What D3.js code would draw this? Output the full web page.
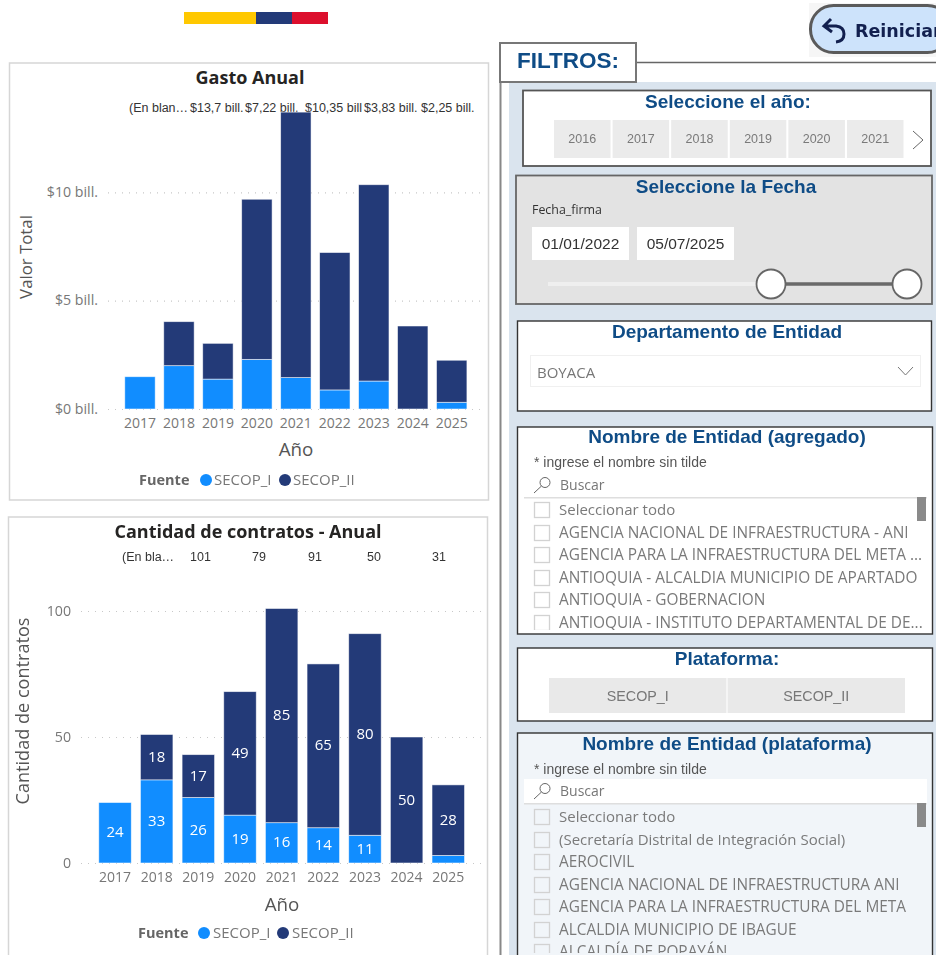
<!DOCTYPE html>
<html>
<head>
<meta charset="utf-8">
<script src="https://cdn.jsdelivr.net/npm/d3@7/dist/d3.min.js"></script>
<style>
html,body{margin:0;padding:0;background:#fff;overflow:hidden}
svg{display:block;filter:blur(.3px)}
text{font-family:"Open Sans",sans-serif}
.a{font-family:"Liberation Sans",Arial,sans-serif}
</style>
</head>
<body>
<svg id="c" width="936" height="955"></svg>
<script>
const years = ["2017","2018","2019","2020","2021","2022","2023","2024","2025"];
const gastoSecopI  = [1.49,2.00,1.38,2.29,1.45,0.88,1.29,0,0.31];
const gastoSecopII = [0,2.03,1.65,7.39,12.25,6.34,9.06,3.83,1.94];
const gastoTicks = [0,5,10];
const gastoTopLabels = ["(En blan…","$13,7 bill.","$7,22 bill.","$10,35 bill","$3,83 bill.","$2,25 bill."];
const gastoTopX = [129,190,245,305,364,421];
const cantSecopI  = [24,33,26,19,16,14,11,0,3];
const cantSecopII = [0,18,17,49,85,65,80,50,28];
const cantTicks = [0,50,100];
const cantTopLabels = ["(En bla…","101","79","91","50","31"];
const cantTopX = [122,190,252,308,367,432];
const seriesNames = ["SECOP_I","SECOP_II"];
const seriesColors = ["#118DFF","#233A78"];
const yearButtons = ["2016","2017","2018","2019","2020","2021"];
const dateValues = ["01/01/2022","05/07/2025"];
const platformButtons = ["SECOP_I","SECOP_II"];
const entidadAgregado = ["Seleccionar todo","AGENCIA NACIONAL DE INFRAESTRUCTURA - ANI","AGENCIA PARA LA INFRAESTRUCTURA DEL META ...","ANTIOQUIA - ALCALDIA MUNICIPIO DE APARTADO","ANTIOQUIA - GOBERNACION","ANTIOQUIA - INSTITUTO DEPARTAMENTAL DE DE..."];
const entidadPlataforma = ["Seleccionar todo","(Secretaría Distrital de Integración Social)","AEROCIVIL","AGENCIA NACIONAL DE INFRAESTRUCTURA ANI","AGENCIA PARA LA INFRAESTRUCTURA DEL META","ALCALDIA MUNICIPIO DE IBAGUE","ALCALDÍA DE POPAYÁN"];

const svg = d3.select("#c");
const rect=(g,x,y,w,h,fill,stroke,sw,rx)=>g.append("rect").attr("x",x).attr("y",y).attr("width",w).attr("height",h)
  .attr("fill",fill||"none").attr("stroke",stroke||"none").attr("stroke-width",sw||0).attr("rx",rx||0);
const txt=(g,x,y,s,size,fill,o={})=>g.append("text").attr("x",x).attr("y",y).attr("dy",o.dy||".35em").text(s)
  .attr("font-size",size).attr("fill",fill).attr("text-anchor",o.anchor||"start").attr("font-weight",o.weight||400)
  .attr("class",o.cls||null).attr("transform",o.rot?`rotate(-90 ${x} ${y})`:null);

// flag
rect(svg,184,12,72,12,"#FFC800");
rect(svg,256,12,36,12,"#233A78");
rect(svg,292,12,36,12,"#DC0F2D");

function chart(cfg){
  const g=svg.append("g");
  rect(g,cfg.box[0],cfg.box[1],cfg.box[2],cfg.box[3],"#fff","#d6d6d6",1.5);
  txt(g,cfg.titleX,cfg.titleY,cfg.title,18,"#252423",{anchor:"middle",weight:700});
  cfg.topLabels.forEach((s,i)=>txt(g,cfg.topX[i],cfg.topY,s,12.5,"#333",{cls:"a"}));
  const x=d3.scaleBand().domain(years).range(cfg.xr).paddingInner(cfg.pad).paddingOuter(cfg.pad/2);
  const y=d3.scaleLinear().domain([0,cfg.ticks[2]]).range([cfg.y0,cfg.yMax]);
  // grid
  const grid=g.append("g").attr("transform",`translate(${cfg.gridX[0]},0)`)
    .call(d3.axisLeft(y).tickValues(cfg.ticks).tickSize(-(cfg.gridX[1]-cfg.gridX[0])).tickFormat(cfg.fmt).tickPadding(10));
  grid.select(".domain").remove();
  grid.selectAll(".tick line").attr("stroke","#c8c8c8").attr("stroke-dasharray","1 6").attr("stroke-width",1.2);
  grid.selectAll(".tick text").attr("fill","#777").attr("font-size",14.2).attr("dy",".3em").attr("font-family",'"Open Sans",sans-serif').attr("font-weight",400);
  // bars
  const bars=g.append("g");
  years.forEach((yr,i)=>{
    const a=cfg.s1[i],b=cfg.s2[i];
    [[0,a,0],[a,a+b,1]].forEach(([lo,hi,k])=>{
      if(hi<=lo) return;
      bars.append("rect").attr("x",x(yr)).attr("width",x.bandwidth())
        .attr("y",y(hi)).attr("height",y(lo)-y(hi)).attr("fill",seriesColors[k])
        .attr("stroke","#fff").attr("stroke-opacity",.65).attr("stroke-width",.8);
      if(cfg.labels && hi-lo>=5){
        txt(bars,x(yr)+x.bandwidth()/2,(y(lo)+y(hi))/2,String(hi-lo),15,"#fff",{anchor:"middle",dy:".3em"});
      }
    });
  });
  // x axis
  const ax=g.append("g").attr("transform",`translate(0,${cfg.y0})`)
    .call(d3.axisBottom(x).tickSize(0).tickPadding(9));
  ax.select(".domain").remove();
  ax.selectAll("text").attr("fill","#777").attr("font-size",14).attr("font-family",'"Open Sans",sans-serif').attr("font-weight",400);
  txt(g,cfg.axX,cfg.axY,"Año",18.8,"#555",{anchor:"middle",weight:400});
  txt(g,cfg.vX,cfg.vY,cfg.vTitle,cfg.vSize,"#555",{anchor:"middle",rot:true,weight:400});
  // legend
  txt(g,cfg.leg[0],cfg.legY,"Fuente",14.5,"#666",{weight:700});
  g.append("circle").attr("cx",cfg.leg[1]).attr("cy",cfg.legY).attr("r",6).attr("fill",seriesColors[0]);
  txt(g,cfg.leg[2],cfg.legY,seriesNames[0],15,"#777",{weight:400});
  g.append("circle").attr("cx",cfg.leg[3]).attr("cy",cfg.legY).attr("r",6).attr("fill",seriesColors[1]);
  txt(g,cfg.leg[4],cfg.legY,seriesNames[1],15,"#777",{weight:400});
}
chart({box:[9.5,63,479,437],title:"Gasto Anual",titleX:250,titleY:78,topLabels:gastoTopLabels,topX:gastoTopX,topY:108,
  xr:[120.5,471.2],pad:.22,y0:409,yMax:192.3,ticks:gastoTicks,gridX:[108,480],fmt:d=>`$${d} bill.`,
  s1:gastoSecopI,s2:gastoSecopII,labels:false,axX:296,axY:449,vX:26,vY:257,vSize:16.8,vTitle:"Valor Total",leg:[139,206,214,285,293],legY:480});
chart({box:[8.5,517,479,444],title:"Cantidad de contratos - Anual",titleX:248,titleY:532,topLabels:cantTopLabels,topX:cantTopX,topY:557,
  xr:[94.2,469.1],pad:.22,y0:863,yMax:611,ticks:cantTicks,gridX:[81,482],fmt:d=>String(d),
  s1:cantSecopI,s2:cantSecopII,labels:true,axX:282,axY:904,vX:23,vY:711,vSize:18.1,vTitle:"Cantidad de contratos",leg:[138,204,213,283,292],legY:933});

// right panel
const p=svg.append("g");
const NAVY="#0F4C86";
const TD=".3em";
rect(p,509,82,427,873,"#DAE4EE");
p.append("line").attr("x1",500.5).attr("x2",500.5).attr("y1",82).attr("y2",955).attr("stroke","#888").attr("stroke-width",2);
p.append("line").attr("x1",636).attr("x2",936).attr("y1",62.5).attr("y2",62.5).attr("stroke","#666").attr("stroke-width",1.5);
rect(p,500,43,136,39,"#fff","#777",2);
txt(p,517,61.5,"FILTROS:",22.5,NAVY,{cls:"a",weight:700,dy:TD});

// reset button
rect(p,809,3,127,54,"#F6F6F6");
rect(p,810.5,5.5,140,47,"#CDE3FB","#5A5A5A",3,23);
p.append("path").attr("d","M831 19 L824 26 L832 32 M824 26 L836 26 Q844 27 844 34 Q844 41 836 42")
  .attr("fill","none").attr("stroke","#12204F").attr("stroke-width",3);
txt(p,855,31,"Reiniciar",17.5,"#12204F",{weight:700}).style("font-family",'"DejaVu Sans",sans-serif');

// year slicer
rect(p,523,90.5,408,75.5,"#fff","#555",1.8);
txt(p,728,102,"Seleccione el año:",19,NAVY,{cls:"a",weight:700,anchor:"middle",dy:TD});
const yb=d3.scaleBand().domain(yearButtons).range([554,903.5]).paddingInner(.035);
yearButtons.forEach(d=>{rect(p,yb(d),120,yb.bandwidth(),38,"#EBEBEB");
  txt(p,yb(d)+yb.bandwidth()/2,139,d,12.5,"#7A7A7A",{anchor:"middle",cls:"a"});});
p.append("path").attr("d","M913 131 L923 140 L913 149").attr("fill","none").attr("stroke","#666").attr("stroke-width",1);

// date slicer
rect(p,516,175.5,416,128.5,"#E3E3E3","#666",1.8);
txt(p,726,187,"Seleccione la Fecha",19,NAVY,{cls:"a",weight:700,anchor:"middle",dy:TD});
txt(p,532,210,"Fecha_firma",12.4,"#333");
dateValues.forEach((d,i)=>{const x0=[532,637][i];rect(p,x0,227,97,33,"#fff");
  txt(p,x0+48.5,243.5,d,15.5,"#333",{anchor:"middle",cls:"a"});});
p.append("line").attr("x1",548).attr("x2",771).attr("y1",284).attr("y2",284).attr("stroke","#EFEFEF").attr("stroke-width",4);
p.append("line").attr("x1",771).attr("x2",907).attr("y1",284).attr("y2",284).attr("stroke","#6A6A6A").attr("stroke-width",3.5);
[771,907].forEach(cx=>p.append("circle").attr("cx",cx).attr("cy",284).attr("r",14.5).attr("fill","#fff").attr("stroke","#666").attr("stroke-width",1.8));

// department
rect(p,517.5,321,414,90,"#fff","#333",1.4);
txt(p,727,332,"Departamento de Entidad",19,NAVY,{cls:"a",weight:700,anchor:"middle",dy:TD});
rect(p,530.5,355.5,390,31,"#fff","#F0F0F0",1);
txt(p,537,373,"BOYACA",15,"#777");
p.append("path").attr("d","M898 367 L905.500 375 L913 367").attr("fill","none").attr("stroke","#777").attr("stroke-width",1);

function listBox(o){
  rect(p,517.5,o.y,415,o.h,o.fill,"#333",1.4);
  txt(p,727,o.titleY,o.title,19,NAVY,{cls:"a",weight:700,anchor:"middle",dy:TD});
  txt(p,534,o.titleY+25,"* ingrese el nombre sin tilde",14,"#555",{cls:"a"});
  if(o.searchFill) rect(p,524,o.searchY-12,403,24,o.searchFill);
  const s=o.searchY-1;
  p.append("circle").attr("cx",545).attr("cy",s-1.5).attr("r",5).attr("fill","none").attr("stroke","#666").attr("stroke-width",1);
  p.append("line").attr("x1",541.5).attr("y1",s+2).attr("x2",534).attr("y2",s+9).attr("stroke","#666").attr("stroke-width",1);
  txt(p,560,o.searchY,"Buscar",14,"#777");
  rect(p,524,o.searchY+12,403,1.5,"#DEDEDE");
  rect(p,917,o.searchY+12,9,24,"#8A8A8A");
  const id="clip"+o.y;
  p.append("clipPath").attr("id",id).append("rect").attr("x",517).attr("y",o.searchY+12).attr("width",406).attr("height",o.clipH);
  const l=p.append("g").attr("clip-path",`url(#${id})`);
  o.rows.forEach((t,i)=>{
    const yy=o.rowY[i];
    rect(l,534.5,yy-7.5,15,15,"none","#D2D2D2",1.3);
    txt(l,559,yy,t,t===t.toUpperCase()?15.4:15,"#7A7A7A");
  });
}
const rowStep = [0,23,45,68,90,113,135];
listBox({y:427,h:207,fill:"#fff",title:"Nombre de Entidad (agregado)",titleY:437,searchY:485,rows:entidadAgregado,
  rowY:rowStep.slice(0,6).map(d=>510+d),clipH:133});

// platform
rect(p,517.5,648,415,73,"#fff","#333",1.4);
txt(p,727,659,"Plataforma:",19,NAVY,{cls:"a",weight:700,anchor:"middle",dy:TD});
const pb=d3.scaleBand().domain(platformButtons).range([549,905]).paddingInner(.006);
platformButtons.forEach(d=>{rect(p,pb(d),678,pb.bandwidth(),35,"#E9E9E9");
  txt(p,pb(d)+pb.bandwidth()/2,696,d,14.3,"#777",{anchor:"middle",cls:"a"});});

listBox({y:733,h:240,fill:"#F1F5F9",title:"Nombre de Entidad (plataforma)",titleY:744,searchY:791,searchFill:"#fff",rows:entidadPlataforma,
  rowY:rowStep.map(d=>817+d),clipH:150});
</script>
</body>
</html>
